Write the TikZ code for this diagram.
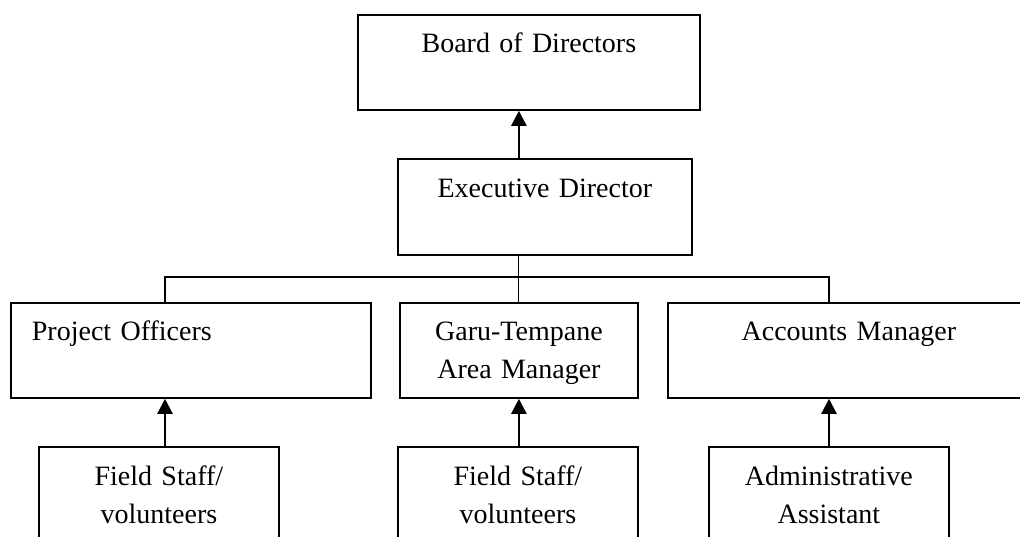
\documentclass[tikz,border=0pt]{standalone}
\usepackage{fontspec}
\setmainfont{Liberation Serif}
\usetikzlibrary{arrows.meta,positioning}

\begin{document}
\begin{tikzpicture}[x=1pt, y=-1pt,
    box/.style={draw, line width=1.8pt, inner sep=0pt, anchor=north west, align=center,
      text height=38pt, text depth=57pt, font=\fontsize{28}{38}\selectfont},
    link/.style={line width=1.1pt},
    up/.style={line width=2.4pt, -{Triangle[width=15pt,length=15pt]}}]
   \useasboundingbox (0,0) rectangle (1020,537);
   \clip (0,0) rectangle (1020,537);
   % top of the chart
   \node[box, text width=342pt] (board) at (357,14) {Board of Directors};
   \node[box, text width=294pt, text height=39pt] (exec) at (397,158) {Executive Director};
   % middle row
   \node[box, align=left, inner xsep=21pt, text width=318pt] (po) at (10,302) {Project Officers};
   \node[box, text width=238pt] (garu) at (399,302) {Garu-Tempane\\Area Manager};
   \node[box, text width=362pt] (acc) at (667,302) {Accounts Manager};
   % bottom row, cut off by the page
   \node[box, text width=240pt, text height=39pt, text depth=120pt] (fs1) at (38,446) {Field Staff/\\volunteers};
   \node[box, text width=240pt, text height=39pt, text depth=120pt] (fs2) at (397,446) {Field Staff/\\volunteers};
   \node[box, text width=240pt, text height=39pt, text depth=120pt] (aa) at (708,446) {Administrative\\Assistant};
   \coordinate (ldrop) at (165,277);
   \coordinate (rdrop) at (829,277);
   \draw[link] (exec.south -| garu.north) -- (garu.north);
   \draw[link] (ldrop |- po.north) -- (ldrop) -- (rdrop) -- (rdrop |- acc.north);
   \draw[up] (exec.north -| garu.north) -- (board.south -| garu.north);
   \draw[up] (ldrop |- fs1.north) -- (ldrop |- po.south);
   \draw[up] (fs2.north -| garu.south) -- (garu.south);
   \draw[up] (rdrop |- aa.north) -- (rdrop |- acc.south);
\end{tikzpicture}
\end{document}
